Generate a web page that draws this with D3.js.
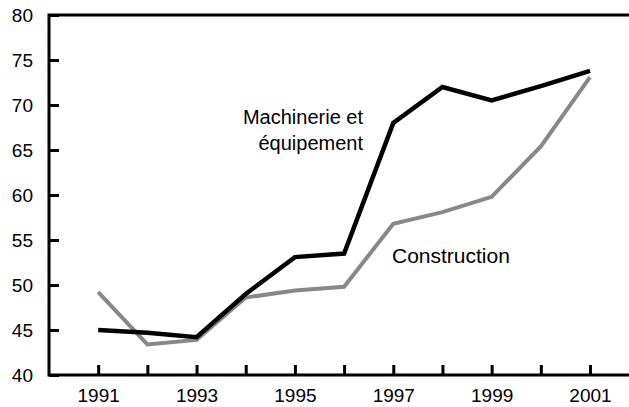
<!DOCTYPE html>
<html>
<head>
<meta charset="utf-8">
<script src="https://cdn.jsdelivr.net/npm/d3@7"></script>
<style>
  body { margin: 0; background: #fff; }
  svg text { font-family: "Liberation Sans", Arial, sans-serif; fill: #000; }
</style>
</head>
<body>
<svg id="chart" width="629" height="407"></svg>
<script>
const years = [1991, 1992, 1993, 1994, 1995, 1996, 1997, 1998, 1999, 2000, 2001];
const machinerie = [45.0, 44.7, 44.2, 49.0, 53.1, 53.5, 68.0, 72.0, 70.5, 72.1, 73.8];
const construction = [49.2, 43.4, 43.9, 48.6, 49.4, 49.8, 56.8, 58.1, 59.8, 65.4, 73.1];
const yTicks = [40, 45, 50, 55, 60, 65, 70, 75, 80];

const margin = { top: 15, right: 0, bottom: 32, left: 49 };
const svg = d3.select("#chart");
const width = 629 - margin.left - margin.right;
const height = 407 - margin.top - margin.bottom;

const g = svg.append("g").attr("transform", `translate(${margin.left},${margin.top})`);

const x = d3.scaleLinear().domain([1990, 2001]).range([0, 541]);
const y = d3.scaleLinear().domain([40, 80]).range([height, 0]);

// y axis, ticks pointing inward
const yAxis = g.append("g")
  .call(d3.axisLeft(y).tickValues(yTicks).tickSize(-10).tickSizeOuter(0).tickPadding(16));
yAxis.select(".domain").remove();
yAxis.selectAll(".tick line").attr("stroke-width", 3);
yAxis.selectAll(".tick text").style("font-size", "19px");

// x axis
const xAxis = g.append("g")
  .attr("transform", `translate(0,${height})`)
  .call(d3.axisBottom(x).tickValues(years).tickSize(-10).tickSizeOuter(0).tickPadding(14)
    .tickFormat(d => d % 2 === 1 ? d : ""));
xAxis.select(".domain").remove();
xAxis.selectAll(".tick line").attr("stroke-width", 3);
xAxis.selectAll(".tick text").style("font-size", "19px");

// frame: left, top, bottom
g.append("path")
  .attr("d", `M${width},0H0V${height}H${width}`)
  .attr("fill", "none")
  .attr("stroke", "#000")
  .attr("stroke-width", 3);

const line = d3.line().x((d, i) => x(years[i])).y(d => y(d));

g.append("path")
  .datum(construction)
  .attr("d", line)
  .attr("fill", "none")
  .attr("stroke", "#888888")
  .attr("stroke-width", 4);

g.append("path")
  .datum(machinerie)
  .attr("d", line)
  .attr("fill", "none")
  .attr("stroke", "#000")
  .attr("stroke-width", 4.5);

// labels
const lab = g.append("text")
  .attr("text-anchor", "end")
  .style("font-size", "20px");
lab.append("tspan").attr("x", 314).attr("y", 109).text("Machinerie et");
lab.append("tspan").attr("x", 314).attr("y", 135).text("équipement");

g.append("text")
  .attr("x", 343)
  .attr("y", 248)
  .style("font-size", "21px")
  .text("Construction");
</script>
</body>
</html>
